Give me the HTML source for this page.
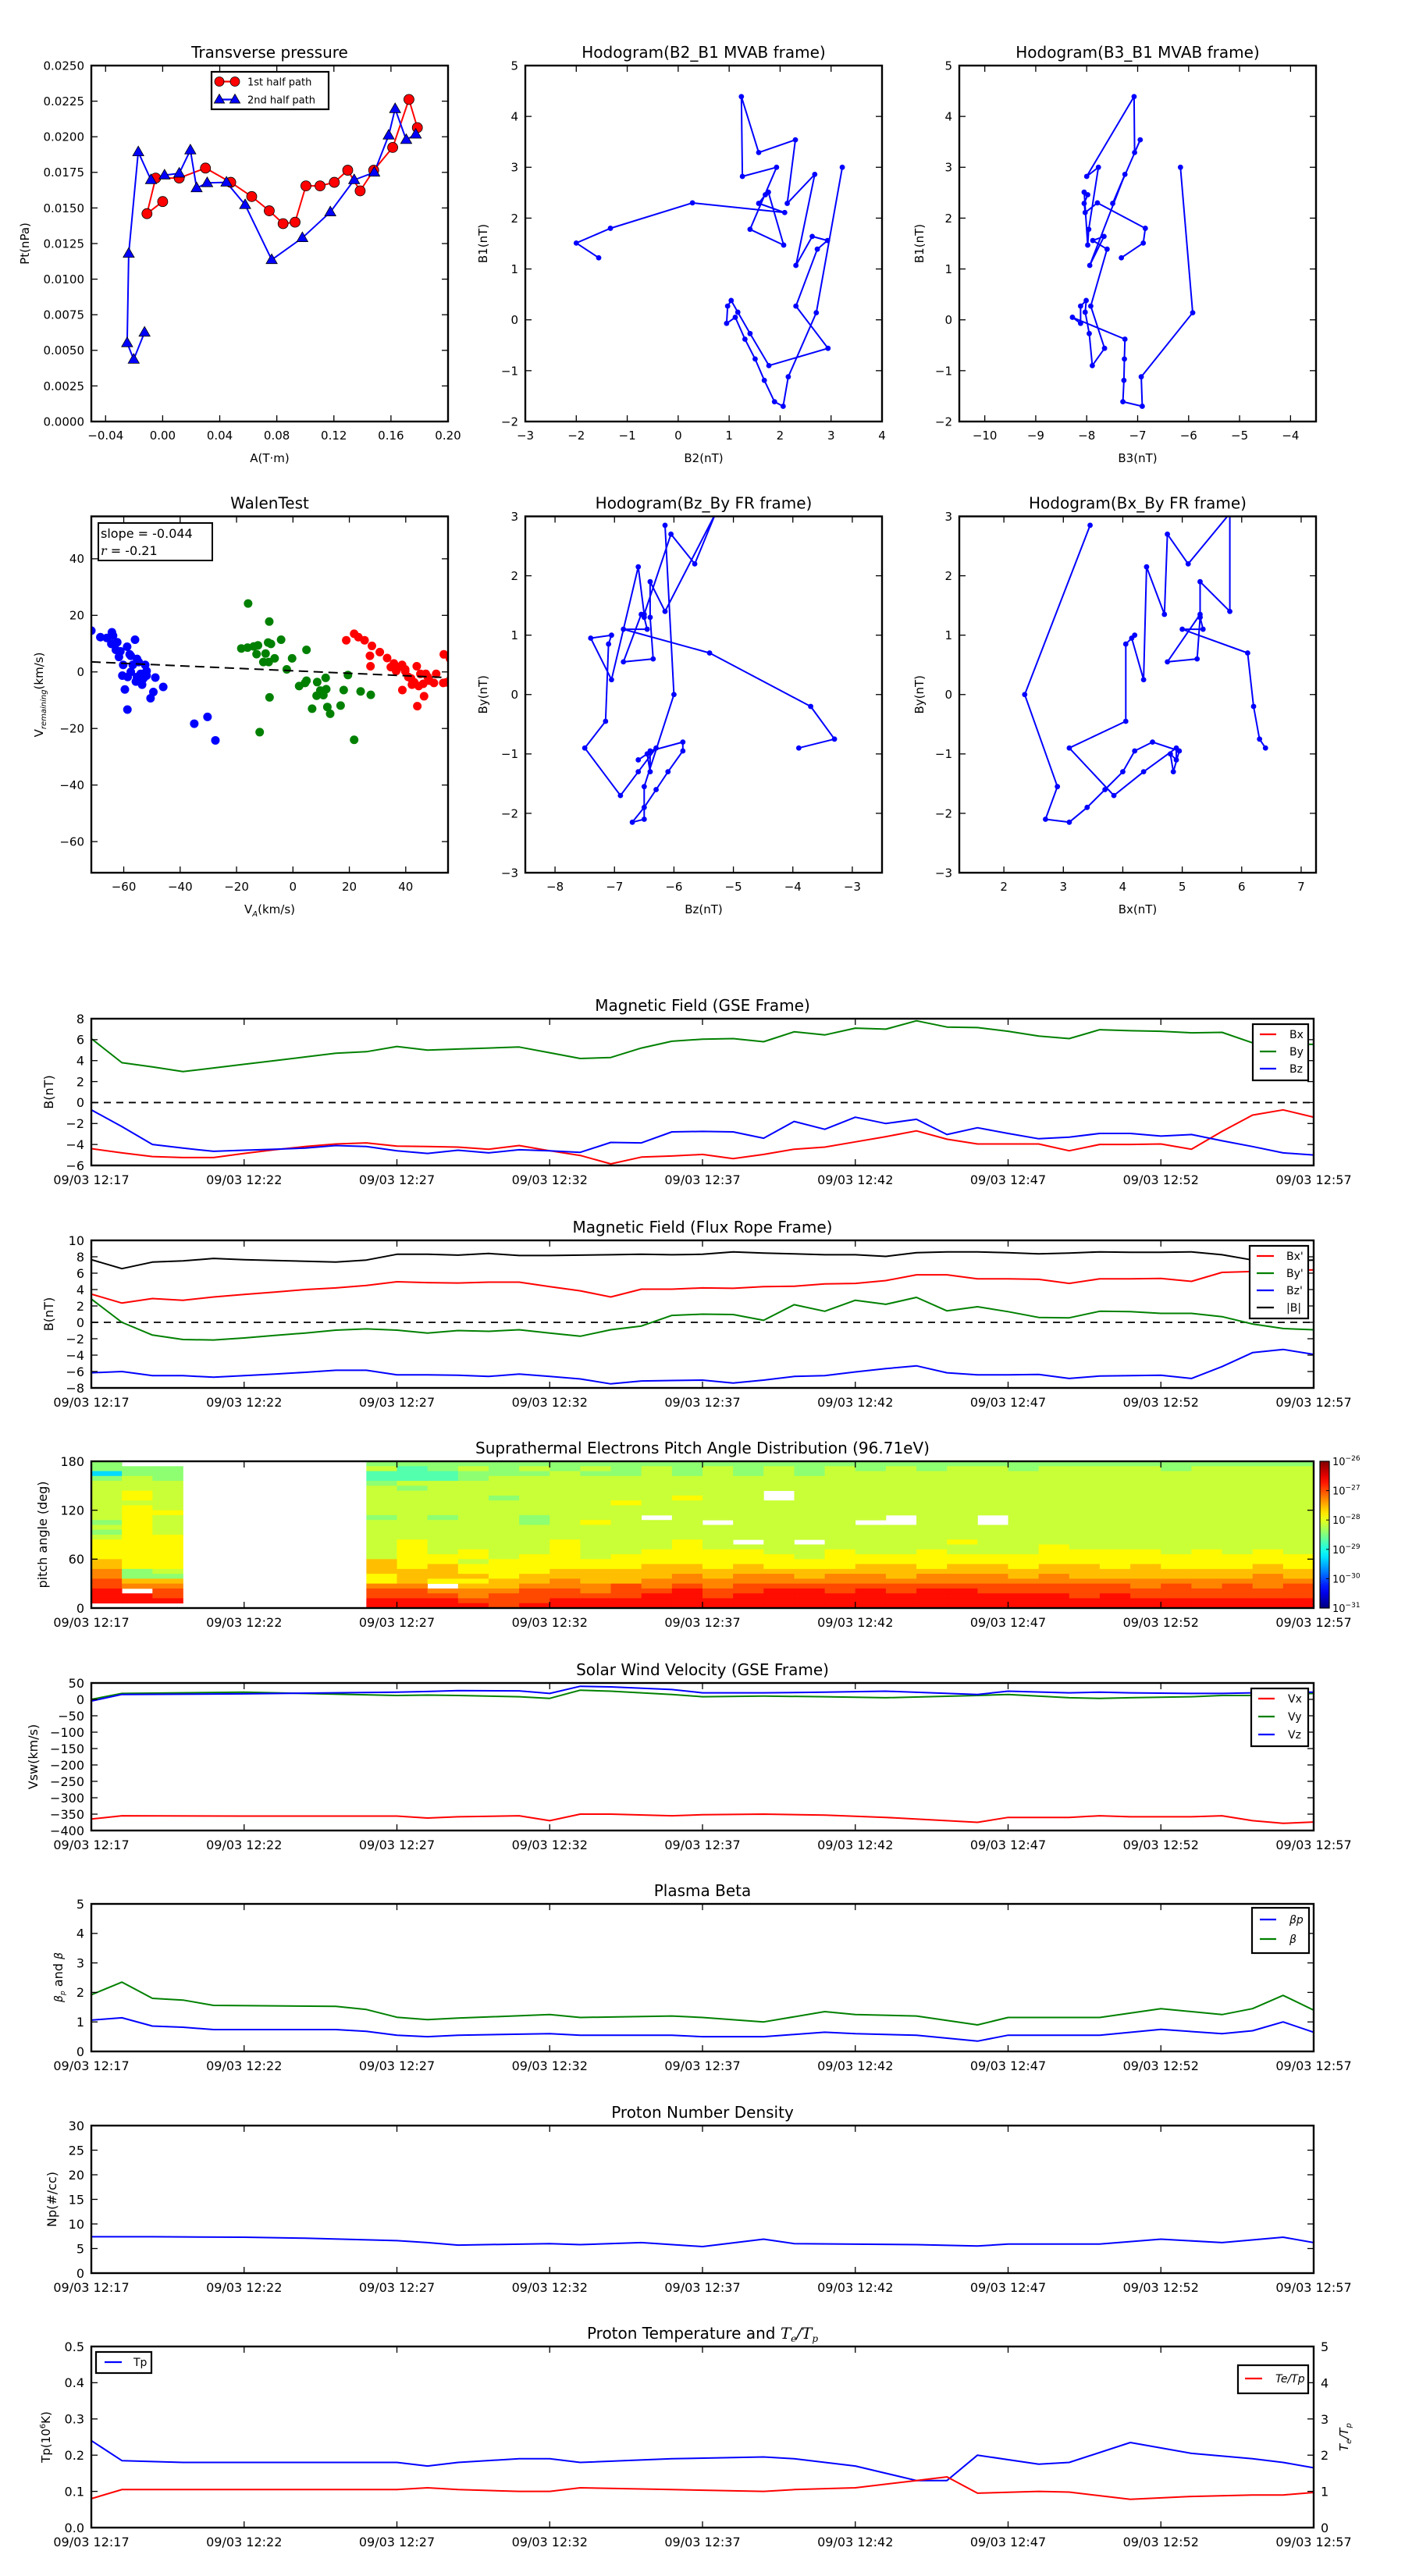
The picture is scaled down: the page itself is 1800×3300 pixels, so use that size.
<!DOCTYPE html>
<html><head><meta charset="utf-8"><title>Flux rope analysis</title>
<style>
html,body{margin:0;padding:0;background:#fff;}
svg{display:block;}
text{font-family:"DejaVu Sans","Liberation Sans",sans-serif;fill:#000;}
</style></head>
<body>
<svg id="fig" xmlns="http://www.w3.org/2000/svg" width="1800" height="3300" viewBox="0 0 1800 3300"></svg>
<script>
// ---------------- DATA ----------------
// Transverse pressure
const p1RedA=[0,-0.011,-0.0049,0.0116,0.030,0.0477,0.0624,0.0747,0.0844,0.0928,0.1004,0.1103,0.1203,0.1297,0.1384,0.1479,0.1612,0.1726,0.1785];
const p1RedPt=[0.01545,0.0146,0.0171,0.0171,0.0178,0.0168,0.0158,0.0148,0.0139,0.0140,0.01655,0.01655,0.0168,0.01765,0.0162,0.01765,0.01925,0.02262,0.02064];
const p1BlueA=[-0.0127,-0.0203,-0.0249,-0.0238,-0.0171,-0.0082,0.0013,0.0116,0.0194,0.0238,0.0312,0.0447,0.0578,0.0764,0.0979,0.1175,0.1342,0.1483,0.1584,0.1629,0.1707,0.1774];
const p1BluePt=[0.00626,0.00436,0.00552,0.0118,0.01893,0.01697,0.0173,0.01743,0.01906,0.0164,0.01676,0.0168,0.01522,0.01136,0.0129,0.01471,0.01697,0.0175,0.0201,0.02196,0.01979,0.02017];
// MVAB hodograms
const mvB1=[1.22,1.51,1.80,2.30,2.11,2.29,2.46,2.51,1.47,1.78,3.0,2.82,4.39,3.29,3.54,2.29,2.86,1.07,1.64,1.56,1.39,0.27,-0.56,-0.90,-0.27,0.15,0.38,0.27,-0.07,0.05,-0.38,-0.77,-1.19,-1.61,-1.70,-1.12,0.14,3.0];
const mvB2=[-1.56,-2.0,-1.33,0.28,2.09,1.58,1.71,1.77,2.07,1.41,1.93,1.26,1.24,1.58,2.30,2.14,2.68,2.31,2.63,2.93,2.73,2.31,2.94,1.78,1.41,1.17,1.04,0.97,0.95,1.12,1.31,1.51,1.69,1.89,2.06,2.16,2.71,3.22];
const mvB3=[-7.32,-6.89,-6.85,-7.79,-8.03,-8.05,-7.98,-8.05,-7.98,-7.96,-7.77,-8.0,-7.07,-7.06,-6.95,-7.49,-7.25,-7.94,-7.66,-7.88,-7.6,-7.92,-7.65,-7.89,-7.95,-8.03,-8.01,-8.12,-8.12,-8.28,-7.25,-7.26,-7.27,-7.29,-6.91,-6.93,-5.92,-6.16];
// Walen test
const walBlueVa=[-71.5,-68.3,-66,-64.2,-63.8,-64.4,-62.8,-61.2,-61.7,-58.8,-56,-57.9,-55.3,-60.2,-60.5,-58.6,-57.5,-59.6,-58.7,-55.7,-53.5,-54,-52.4,-51.9,-48.8,-49.5,-50.5,-46,-53,-54.7,-56.8,-35,-30.3,-27.5,-62.3,-57.5,-55.3,-51.9];
const walBlueVr=[14.6,12.3,12,14,12.8,9.9,7.8,7.3,5.3,8.9,11.4,6.2,4.6,2.5,-1.3,-1.8,0,-6.2,-13.3,-3.4,-4.5,-0.7,2.5,0.3,-2,-7.1,-9.3,-5.3,-2.3,3.5,2.5,-18.3,-15.9,-24.2,10.5,5.7,-1.8,-1.3];
const walGreenVa=[-15.9,-8.4,-18.3,-16.1,-12.4,-12.9,-8.8,-7.8,-4.2,-9.7,-10.5,-8.6,-6.5,-0.3,4.8,-2.2,-8.3,-11.8,2.2,4.8,4.3,8.6,11.6,9.7,8.4,10.8,11.8,6.8,12.2,13.2,16.9,18,19.5,21.7,24,27.6,-13.9];
const walGreenVr=[24.2,17.8,8.3,8.6,9.4,6.3,10.4,9.9,11.4,6.5,3.5,3.5,4.8,4.8,7.8,0.9,-9,-21.3,-5,-3.1,-3.9,-3.6,-2.1,-6.6,-8.4,-8.2,-6.1,-13,-12.4,-14.8,-11.9,-6.4,-1.1,-24,-6.9,-8.1,9];
const walRedVa=[18.9,21.7,23.2,25.4,28,30.8,27.3,27.5,33.4,34.7,35.8,37.2,38.7,39.8,36.6,39.8,43.9,45.2,47.1,50.8,41.9,43,44.6,46.2,48.4,50,42.2,38.8,46.5,44.1,53.5,55.7,53.3,54.4,40.9,47.8];
const walRedVr=[11.2,13.5,12.3,11.2,9.2,7,5.7,2,4.9,1.7,3,1.6,2.5,0.9,0.3,0.3,2,-0.7,-0.7,-0.7,-2.3,-3.7,-5,-4.2,-3.1,-3.9,-4.5,-6.4,-8.6,-12.1,6.2,4.7,-3.9,-3.7,-1.8,-1.8];
const walSlope=-0.044, walIntercept=0.4;
// Time series (minutes after 12:17)
const tMin=[0,1,2,3,4,5,6,7,8,9,10,11,12,13,14,15,16,17,18,19,20,21,22,23,24,25,26,27,28,29,30,31,32,33,34,35,36,37,38,39,40];
const gseBx=[-4.4,-4.8,-5.15,-5.25,-5.25,-4.85,-4.5,-4.2,-3.95,-3.85,-4.15,-4.2,-4.25,-4.45,-4.1,-4.6,-5.05,-5.85,-5.2,-5.1,-4.95,-5.35,-4.95,-4.45,-4.25,-3.75,-3.25,-2.7,-3.5,-3.95,-3.95,-3.95,-4.6,-4.0,-4.0,-3.95,-4.45,-2.75,-1.2,-0.7,-1.4];
const gseBy=[6.1,3.8,3.4,2.95,3.3,3.65,4.0,4.35,4.7,4.85,5.35,5.0,5.1,5.2,5.3,4.75,4.2,4.3,5.2,5.85,6.05,6.1,5.8,6.75,6.45,7.1,7.0,7.8,7.2,7.15,6.8,6.35,6.1,6.95,6.85,6.8,6.65,6.7,5.7,5.6,5.55];
const gseBz=[-0.7,-2.3,-4.0,-4.35,-4.65,-4.55,-4.45,-4.35,-4.1,-4.2,-4.6,-4.85,-4.55,-4.8,-4.5,-4.6,-4.75,-3.8,-3.85,-2.8,-2.75,-2.8,-3.4,-1.8,-2.55,-1.4,-2.0,-1.6,-3.05,-2.4,-2.95,-3.45,-3.3,-2.95,-2.95,-3.2,-3.05,-3.65,-4.2,-4.8,-5.0];
const frBx=[3.45,2.35,2.9,2.7,3.1,3.4,3.7,4.0,4.2,4.5,4.95,4.85,4.8,4.9,4.9,4.35,3.85,3.1,4.05,4.05,4.2,4.15,4.35,4.4,4.7,4.75,5.1,5.8,5.8,5.3,5.3,5.25,4.75,5.3,5.3,5.35,5.0,6.1,6.2,6.3,6.4];
const frBy=[2.85,0,-1.55,-2.1,-2.15,-1.9,-1.6,-1.3,-0.95,-0.8,-0.95,-1.3,-1.0,-1.1,-0.9,-1.3,-1.7,-0.9,-0.45,0.85,1.0,0.95,0.25,2.15,1.35,2.7,2.2,3.05,1.4,1.9,1.3,0.6,0.55,1.35,1.3,1.1,1.1,0.7,-0.2,-0.75,-0.9];
const frBz=[-6.15,-6.0,-6.5,-6.5,-6.7,-6.5,-6.3,-6.1,-5.85,-5.85,-6.4,-6.4,-6.45,-6.6,-6.3,-6.6,-6.9,-7.5,-7.15,-7.1,-7.05,-7.4,-7.05,-6.6,-6.5,-6.05,-5.65,-5.3,-6.15,-6.4,-6.4,-6.35,-6.85,-6.55,-6.5,-6.45,-6.85,-5.4,-3.7,-3.3,-3.9];
const frBt=[7.65,6.55,7.35,7.5,7.8,7.65,7.55,7.45,7.35,7.6,8.3,8.3,8.2,8.4,8.15,8.15,8.2,8.25,8.3,8.25,8.3,8.6,8.45,8.35,8.25,8.25,8.05,8.5,8.6,8.6,8.5,8.35,8.45,8.6,8.55,8.55,8.6,8.25,7.6,7.5,7.6];
// Pitch angle distribution: one string per minute column, 30 bins from 180 deg (first) to 0 deg (last); digit = log flux level, '.' = no data
const padCols=[
"33034 44444 44343 45555 66778 8999.",".3344 45545 55555 55555 55336 7.99.",".3334 44444 54444 55555 55436 7889.",
"..... ..... ..... ..... ..... .....","..... ..... ..... ..... ..... .....","..... ..... ..... ..... ..... .....",
"..... ..... ..... ..... ..... .....","..... ..... ..... ..... ..... .....","..... ..... ..... ..... ..... .....",
"34223 44444 43444 44444 66655 78899","32224 34444 44444 45555 55666 78899","33224 44444 43444 44445 56665 .7899",
"34334 44444 44444 44455 45565 67789","33344 44344 44444 44444 55556 67888","34344 44444 43344 44445 55566 78889",
"33444 44444 44444 45555 55667 78899","34344 44444 44544 44444 55666 77899","33344 44454 44444 44445 55666 88899",
"34444 44444 4.444 44455 56667 78999","33344 44544 44444 45555 56677 89999","34444 44444 44.44 44455 55667 78899",
"33344 44444 44444 4.455 56677 88999","34444 4..44 44444 44445 55677 89999","33344 44444 44444 4.444 55667 89999",
"34444 44444 44444 44455 55677 88999","33444 44444 44.44 44445 56677 89999","34444 44444 4..44 44445 56667 88999",
"33444 44444 44444 44455 55677 89999","34444 44444 44444 45445 56677 89999","34444 44444 4..44 44445 56677 88999",
"33444 44444 44444 44445 55667 88999","34444 44444 44444 44555 56677 88999","34444 44444 44444 44455 56667 88899",
"34444 44444 44444 44455 55667 88999","34444 44444 44444 44455 56667 78899","33444 44444 44444 44445 55667 88899",
"34444 44444 44444 44455 55667 78899","34444 44444 44444 44445 55667 88899","34444 44444 44444 44455 56677 78899",
"34444 44444 44444 44445 55667 88899"];
const padCbarExp=[-26,-27,-28,-29,-30,-31];
// Solar wind velocity
const vswT=[0,1,5,10,11,12,14,15,16,17,19,20,22,24,26,29,30,32,33,34,36,37,38,39,40];
const vswVx=[-365,-355,-356,-356,-362,-358,-355,-370,-350,-350,-355,-352,-350,-353,-360,-375,-360,-360,-355,-358,-358,-355,-370,-378,-374];
const vswVy=[0,18,22,12,13,12,8,3,28,25,15,8,10,8,5,12,15,5,3,5,8,12,12,15,18];
const vswVz=[-5,15,17,22,24,27,26,18,40,38,30,20,20,22,25,15,25,20,22,20,18,18,20,22,22];
// Plasma beta
const betaT=[0,1,2,3,4,8,9,10,11,12,15,16,19,20,22,24,25,27,29,30,33,35,37,38,39,40];
const betaTot=[1.92,2.35,1.8,1.74,1.56,1.53,1.42,1.16,1.08,1.13,1.25,1.15,1.2,1.15,1.0,1.35,1.25,1.2,0.9,1.15,1.15,1.45,1.25,1.45,1.9,1.4];
const betaP=[1.06,1.14,0.86,0.82,0.74,0.74,0.68,0.55,0.5,0.55,0.6,0.55,0.55,0.5,0.5,0.65,0.6,0.55,0.35,0.55,0.55,0.75,0.6,0.7,1.0,0.65];
// Proton density
const npT=[0,2,5,7,10,11,12,15,16,18,20,22,23,27,29,30,33,35,37,39,40];
const npV=[7.4,7.4,7.3,7.1,6.6,6.2,5.7,6.0,5.8,6.2,5.4,6.9,6.0,5.8,5.5,5.9,5.9,6.9,6.2,7.3,6.2];
// Proton temperature and Te/Tp
const tpT=[0,1,3,10,11,12,14,15,16,19,22,23,25,27,28,29,31,32,34,36,38,39,40];
const tpV=[0.24,0.185,0.18,0.18,0.17,0.18,0.19,0.19,0.18,0.19,0.195,0.19,0.17,0.13,0.13,0.2,0.175,0.18,0.235,0.205,0.19,0.18,0.165];
const teTpV=[0.8,1.05,1.05,1.05,1.1,1.05,1.0,1.0,1.1,1.05,1.0,1.05,1.1,1.3,1.4,0.95,1.0,0.98,0.78,0.86,0.9,0.9,0.97];
const timeTickVals=[0,5,10,15,20,25,30,35,40];
const timeTickLabels=["09/03 12:17","09/03 12:22","09/03 12:27","09/03 12:32","09/03 12:37","09/03 12:42","09/03 12:47","09/03 12:52","09/03 12:57"];

// ---------------- HELPERS ----------------
const NS='http://www.w3.org/2000/svg';
const svg=document.getElementById('fig');
function mk(tag,attrs,parent){const e=document.createElementNS(NS,tag);for(const k in attrs)e.setAttribute(k,attrs[k]);(parent||svg).appendChild(e);return e;}
function fmtNum(v,d){const s=Math.abs(v).toFixed(d);return (v<-1e-12?'\u2212':'')+s;}
function txt(x,y,s,size,anchor,parent,extra){const t=mk('text',Object.assign({x:x,y:y,'font-size':size,'text-anchor':anchor||'middle'},extra||{}),parent);t.textContent=s;return t;}
let clipId=0;
function axes(o){
  const g=mk('g',{});
  
  
  const sx=v=>o.x0+(v-o.xmin)/(o.xmax-o.xmin)*(o.x1-o.x0);
  const sy=v=>o.y1-(v-o.ymin)/(o.ymax-o.ymin)*(o.y1-o.y0);
  const cid='clip'+(clipId++);
  const cp=mk('clipPath',{id:cid},g);mk('rect',{x:o.x0,y:o.y0,width:o.x1-o.x0,height:o.y1-o.y0},cp);
  const data=mk('g',{'clip-path':'url(#'+cid+')'},g);
  
  
  const fs=o.fs||15;
  const tt=txt((o.x0+o.x1)/2,o.y0-10,o.title,o.tfs||20,'middle',g);
  
  
  const tg=mk('g',{stroke:'#000','stroke-width':1.3},g);
  const tl=8;
  o.xticks.forEach((v,i)=>{const x=sx(v);
    mk('line',{x1:x,x2:x,y1:o.y1,y2:o.y1-tl},tg);mk('line',{x1:x,x2:x,y1:o.y0,y2:o.y0+tl},tg);
    const lab=txt(x,o.y1+(o.xlabOff||23),o.xlabels?o.xlabels[i]:o.xfmt(v),fs,'middle',g);
    
    });
  o.yticks.forEach((v,i)=>{const y=sy(v);
    mk('line',{x1:o.x0,x2:o.x0+tl,y1:y,y2:y},tg);
    if(!o.noRightTicks)mk('line',{x1:o.x1,x2:o.x1-tl,y1:y,y2:y},tg);
    const lab=txt(o.x0-9,y+fs*0.36,o.yfmt(v),fs,'end',g);
    
    });
  if(o.xlabel){const xl=txt((o.x0+o.x1)/2,o.y1+52,o.xlabel,fs,'middle',g);
    
    
    if(o.xlabelSub){xl.textContent='V';const s=mk('tspan',{'font-size':10,'font-style':'italic','dy':4},xl);s.textContent='A';const r=mk('tspan',{'dy':-4},xl);r.textContent='(km/s)';}}
  if(o.ylabel){const yl=mk('text',{x:0,y:0,'font-size':o.ylfs||fs,'text-anchor':'middle',transform:'translate('+o.ylx+','+((o.y0+o.y1)/2)+') rotate(-90)'},g);
    yl.textContent=o.ylabel;
    
    }
  return {g,data,sx,sy,o,frame:()=>{const f=mk('rect',{x:o.x0,y:o.y0,width:o.x1-o.x0,height:o.y1-o.y0,fill:'none',stroke:'#000','stroke-width':2.4},g);
    
    }};
}
function polyline(ax,xs,ys,color,w,name){
  const pts=xs.map((x,i)=>ax.sx(x).toFixed(1)+','+ax.sy(ys[i]).toFixed(1)).join(' ');
  const p=mk('polyline',{points:pts,fill:'none',stroke:color,'stroke-width':w||2,'stroke-linejoin':'round'},ax.data);
  
  
  return p;
}
function dots(ax,xs,ys,color,r,name){
  const g=mk('g',{fill:color},ax.data);
  
  
  xs.forEach((x,i)=>{mk('circle',{cx:ax.sx(x),cy:ax.sy(ys[i]),r:r},g);});
  return g;
}
function range(a,b,s){const r=[];for(let v=a;v<=b+1e-9;v+=s)r.push(+v.toFixed(6));return r;}
function legend(x,y,w,h,entries,name){
  const g=mk('g',{});
  
  
  mk('rect',{x:x,y:y,width:w,height:h,fill:'#fff',stroke:'#000','stroke-width':2.2},g);
  entries.forEach(e=>{
    const it=mk('g',{},g);
    
    
    mk('line',{x1:e.lx1,x2:e.lx2,y1:e.y,y2:e.y,stroke:e.color,'stroke-width':2.2},it);
    if(e.marker==='o'){mk('circle',{cx:e.lx1,cy:e.y,r:6,fill:e.color,stroke:'#000','stroke-width':0.8},it);mk('circle',{cx:e.lx2,cy:e.y,r:6,fill:e.color,stroke:'#000','stroke-width':0.8},it);}
    if(e.marker==='^'){[e.lx1,e.lx2].forEach(cx=>mk('polygon',{points:tri(cx,e.y,7),fill:e.color,stroke:'#000','stroke-width':0.8},it));}
    txt(e.tx,e.y+5,e.label,e.fs||14,'start',it,e.italic?{'font-style':'italic','font-family':'"DejaVu Serif","Liberation Serif",serif'}:{});
  });
  return g;
}
function tri(cx,cy,r){return [cx+','+(cy-r),(cx-r*0.95)+','+(cy+r*0.65),(cx+r*0.95)+','+(cy+r*0.65)].join(' ');}

// ---------------- PANEL 1: Transverse pressure ----------------
(function(){
  const ax=axes({name:'transverse-pressure-chart',x0:117,x1:574,y0:84,y1:540,xmin:-0.05,xmax:0.20,ymin:0,ymax:0.025,
    xticks:range(-0.04,0.20,0.04),xfmt:v=>fmtNum(v,2),yticks:range(0,0.025,0.0025),yfmt:v=>fmtNum(v,4),
    title:'Transverse pressure',xlabel:'A(T\u00b7m)',ylabel:'Pt(nPa)',ylx:37});
  polyline(ax,p1RedA,p1RedPt,'#ff0000',2,'first-half-path-line');
  polyline(ax,p1BlueA,p1BluePt,'#0000ff',2,'second-half-path-line');
  const rg=mk('g',{fill:'#ff0000',stroke:'#000','stroke-width':0.8},ax.data);
  
  
  p1RedA.forEach((a,i)=>mk('circle',{cx:ax.sx(a),cy:ax.sy(p1RedPt[i]),r:6.5},rg));
  const bg=mk('g',{fill:'#0000ff',stroke:'#000','stroke-width':0.8},ax.data);
  
  
  p1BlueA.forEach((a,i)=>mk('polygon',{points:tri(ax.sx(a),ax.sy(p1BluePt[i]),7.5)},bg));
  ax.frame();
  legend(271,92,150,48,[{lx1:281,lx2:301,y:104.5,color:'#ff0000',marker:'o',tx:317,label:'1st half path',fs:13},
    {lx1:281,lx2:301,y:127.5,color:'#0000ff',marker:'^',tx:317,label:'2nd half path',fs:13}],'pressure-legend');
})();

// ---------------- Hodograms MVAB ----------------
(function(){
  const ax=axes({name:'hodogram-b2-b1-chart',x0:673,x1:1130,y0:84,y1:540,xmin:-3,xmax:4,ymin:-2,ymax:5,
    xticks:range(-3,4,1),xfmt:v=>fmtNum(v,0),yticks:range(-2,5,1),yfmt:v=>fmtNum(v,0),
    title:'Hodogram(B2_B1 MVAB frame)',xlabel:'B2(nT)',ylabel:'B1(nT)',ylx:624});
  polyline(ax,mvB2,mvB1,'#0000ff',2,'b2-b1-path');
  dots(ax,mvB2,mvB1,'#0000ff',3.4,'b2-b1-points');
  ax.frame();
  const ax2=axes({name:'hodogram-b3-b1-chart',x0:1229,x1:1686,y0:84,y1:540,xmin:-10.5,xmax:-3.5,ymin:-2,ymax:5,
    xticks:range(-10,-4,1),xfmt:v=>fmtNum(v,0),yticks:range(-2,5,1),yfmt:v=>fmtNum(v,0),
    title:'Hodogram(B3_B1 MVAB frame)',xlabel:'B3(nT)',ylabel:'B1(nT)',ylx:1183});
  polyline(ax2,mvB3,mvB1,'#0000ff',2,'b3-b1-path');
  dots(ax2,mvB3,mvB1,'#0000ff',3.4,'b3-b1-points');
  ax2.frame();
})();

// ---------------- Walen test ----------------
(function(){
  const ax=axes({name:'walen-test-chart',x0:117,x1:574,y0:661.5,y1:1118,xmin:-71.5,xmax:55,ymin:-71,ymax:55,
    xticks:range(-60,40,20),xfmt:v=>fmtNum(v,0),yticks:range(-60,40,20),yfmt:v=>fmtNum(v,0),
    title:'WalenTest',xlabel:'V_A(km/s)',xlabelSub:true,ylabel:'',ylx:53});
  dots(ax,walBlueVa,walBlueVr,'#0000ff',5.5,'walen-blue-points');
  dots(ax,walGreenVa,walGreenVr,'#008000',5.5,'walen-green-points');
  dots(ax,walRedVa,walRedVr,'#ff0000',5.5,'walen-red-points');
  const fx=[ax.o.xmin,ax.o.xmax];
  const fl=mk('line',{x1:ax.sx(fx[0]),y1:ax.sy(walSlope*fx[0]+walIntercept),x2:ax.sx(fx[1]),y2:ax.sy(walSlope*fx[1]+walIntercept),stroke:'#000','stroke-width':2,'stroke-dasharray':'12,7'},ax.data);
  
  
  ax.frame();
  const yl=mk('text',{x:0,y:0,'font-size':15,'text-anchor':'middle',transform:'translate(55,890) rotate(-90)'},ax.g);
  
  
  yl.textContent='V';
  const s1=mk('tspan',{'font-size':10,'font-style':'italic','dy':4},yl);s1.textContent='remaining';
  const s2=mk('tspan',{'dy':-4},yl);s2.textContent='(km/s)';
  const box=mk('g',{},ax.g);
  
  
  mk('rect',{x:126,y:670,width:146,height:48,fill:'#fff',stroke:'#000','stroke-width':2},box);
  txt(129,689,'slope = -0.044',16,'start',box);
  const r=txt(129,711,'',16,'start',box);
  const ri=mk('tspan',{'font-style':'italic','font-family':'"DejaVu Serif","Liberation Serif",serif'},r);ri.textContent='r';
  const rr=mk('tspan',{},r);rr.textContent=' = -0.21';
})();

// ---------------- Hodograms FR ----------------
(function(){
  const ax=axes({name:'hodogram-bz-by-chart',x0:673,x1:1130,y0:661.5,y1:1118,xmin:-8.5,xmax:-2.5,ymin:-3,ymax:3,
    xticks:range(-8,-3,1),xfmt:v=>fmtNum(v,0),yticks:range(-3,3,1),yfmt:v=>fmtNum(v,0),
    title:'Hodogram(Bz_By FR frame)',xlabel:'Bz(nT)',ylabel:'By(nT)',ylx:624});
  polyline(ax,frBz,frBy,'#0000ff',2,'bz-by-path');
  dots(ax,frBz,frBy,'#0000ff',3.4,'bz-by-points');
  ax.frame();
  const ax2=axes({name:'hodogram-bx-by-chart',x0:1229,x1:1686,y0:661.5,y1:1118,xmin:1.25,xmax:7.25,ymin:-3,ymax:3,
    xticks:range(2,7,1),xfmt:v=>fmtNum(v,0),yticks:range(-3,3,1),yfmt:v=>fmtNum(v,0),
    title:'Hodogram(Bx_By FR frame)',xlabel:'Bx(nT)',ylabel:'By(nT)',ylx:1183});
  polyline(ax2,frBx,frBy,'#0000ff',2,'bx-by-path');
  dots(ax2,frBx,frBy,'#0000ff',3.4,'bx-by-points');
  ax2.frame();
})();

// ---------------- time-series helper ----------------
function tsAxes(name,y0,y1,ymin,ymax,yticks,yfmt,title,ylabel,ylx){
  return axes({name:name,x0:117,x1:1683,y0:y0,y1:y1,xmin:0,xmax:40,ymin:ymin,ymax:ymax,
    xticks:timeTickVals,xlabels:timeTickLabels,yticks:yticks,yfmt:yfmt,fs:16,xlabOff:24,
    title:title,ylabel:ylabel,ylx:ylx});
}
function zeroLine(ax,name){const l=mk('line',{x1:ax.o.x0,x2:ax.o.x1,y1:ax.sy(0),y2:ax.sy(0),stroke:'#000','stroke-width':1.8,'stroke-dasharray':'9,7'},ax.data);
  
  }

// GSE
(function(){
  const ax=tsAxes('magnetic-field-gse-chart',1305,1493,-6,8,range(-6,8,2),v=>fmtNum(v,0),'Magnetic Field (GSE Frame)','B(nT)',68);
  zeroLine(ax,'gse-zero-line');
  polyline(ax,tMin,gseBx,'#ff0000',2,'gse-bx-line');
  polyline(ax,tMin,gseBy,'#008000',2,'gse-by-line');
  polyline(ax,tMin,gseBz,'#0000ff',2,'gse-bz-line');
  ax.frame();
  legend(1605,1312,71,72,[{lx1:1614,lx2:1635,y:1325,color:'#ff0000',tx:1652,label:'Bx'},{lx1:1614,lx2:1635,y:1347,color:'#008000',tx:1652,label:'By'},{lx1:1614,lx2:1635,y:1369,color:'#0000ff',tx:1652,label:'Bz'}],'gse-legend');
})();
// FR
(function(){
  const ax=tsAxes('magnetic-field-flux-rope-chart',1589,1778,-8,10,range(-8,10,2),v=>fmtNum(v,0),'Magnetic Field (Flux Rope Frame)','B(nT)',68);
  zeroLine(ax,'fr-zero-line');
  polyline(ax,tMin,frBx,'#ff0000',2,'fr-bx-line');
  polyline(ax,tMin,frBy,'#008000',2,'fr-by-line');
  polyline(ax,tMin,frBz,'#0000ff',2,'fr-bz-line');
  polyline(ax,tMin,frBt,'#000000',2,'fr-btotal-line');
  ax.frame();
  legend(1601,1596,75,93,[{lx1:1610,lx2:1632,y:1609,color:'#ff0000',tx:1648,label:"Bx'"},{lx1:1610,lx2:1632,y:1631,color:'#008000',tx:1648,label:"By'"},{lx1:1610,lx2:1632,y:1653,color:'#0000ff',tx:1648,label:"Bz'"},{lx1:1610,lx2:1632,y:1675,color:'#000000',tx:1648,label:'|B|'}],'fr-legend');
})();
// Pitch angle
function jet(v){const c=x=>Math.max(0,Math.min(1,x));return 'rgb('+Math.round(255*c(1.5-Math.abs(4*v-3)))+','+Math.round(255*c(1.5-Math.abs(4*v-2)))+','+Math.round(255*c(1.5-Math.abs(4*v-1)))+')';}
(function(){
  const ax=tsAxes('pitch-angle-distribution-chart',1872,2060,0,180,range(0,180,60),v=>fmtNum(v,0),'Suprathermal Electrons Pitch Angle Distribution (96.71eV)','pitch angle (deg)',60);
  const hg=mk('g',{},ax.data);
  
  
  padCols.forEach((s,ci)=>{
    const str=s.replace(/ /g,'');
    for(let r=0;r<str.length;r++){
      const ch=str[r]; if(ch==='.')continue;
      const d=+ch, frac=0.34+0.058*d;
      const aTop=180-6*r, aBot=aTop-6;
      const x0=ax.sx(ci), x1=ax.sx(ci+1), y0=ax.sy(aTop), y1=ax.sy(aBot);
      const cell=mk('rect',{x:x0.toFixed(2),y:y0.toFixed(2),width:(x1-x0+0.4).toFixed(2),height:(y1-y0+0.4).toFixed(2),fill:jet(frac)},hg);
      
      
    }
  });
  ax.frame();
  const cb=mk('g',{},svg);
  
  
  const defs=mk('defs',{},cb);
  const lg=mk('linearGradient',{id:'jetgrad',x1:0,y1:1,x2:0,y2:0},defs);
  for(let i=0;i<=20;i++){mk('stop',{offset:(i/20),'stop-color':jet(i/20)},lg);}
  const cy0=1872,cy1=2060;
  mk('rect',{x:1691,y:cy0,width:12,height:cy1-cy0,fill:'url(#jetgrad)',stroke:'#000','stroke-width':1.2},cb);
  padCbarExp.forEach((e,i)=>{const y=cy0+i*(cy1-cy0)/(padCbarExp.length-1);
    mk('line',{x1:1699,x2:1703,y1:y,y2:y,stroke:'#000','stroke-width':1},cb);
    const t=txt(1707,y+5,'10',13,'start',cb);
    const sp=mk('tspan',{'font-size':9,dy:-6},t);sp.textContent='\u2212'+Math.abs(e);});
})();
// Vsw
(function(){
  const ax=tsAxes('solar-wind-velocity-chart',2156,2345,-400,50,range(-400,50,50),v=>fmtNum(v,0),'Solar Wind Velocity (GSE Frame)','Vsw(km/s)',48);
  polyline(ax,vswT,vswVx,'#ff0000',2,'vsw-vx-line');
  polyline(ax,vswT,vswVy,'#008000',2,'vsw-vy-line');
  polyline(ax,vswT,vswVz,'#0000ff',2,'vsw-vz-line');
  ax.frame();
  legend(1603,2163,73,74,[{lx1:1612,lx2:1633,y:2176,color:'#ff0000',tx:1650,label:'Vx'},{lx1:1612,lx2:1633,y:2199,color:'#008000',tx:1650,label:'Vy'},{lx1:1612,lx2:1633,y:2222,color:'#0000ff',tx:1650,label:'Vz'}],'vsw-legend');
})();
// Beta
(function(){
  const ax=tsAxes('plasma-beta-chart',2439,2628,0,5,range(0,5,1),v=>fmtNum(v,0),'Plasma Beta','',78);
  polyline(ax,betaT,betaP,'#0000ff',2,'beta-proton-line');
  polyline(ax,betaT,betaTot,'#008000',2,'beta-total-line');
  ax.frame();
  const yl=mk('text',{x:0,y:0,'font-size':14,'text-anchor':'middle',fill:'#777',transform:'translate(80,2533) rotate(-90)','font-style':'italic','font-family':'"DejaVu Serif",serif'},ax.g);
  
  
  yl.textContent='\u03b2';
  const a=mk('tspan',{'font-size':9,dy:3},yl);a.textContent='p';
  const b=mk('tspan',{dy:-3,'font-style':'normal','font-family':'"DejaVu Sans",sans-serif',fill:'#000','font-size':16},yl);b.textContent=' and ';
  const c=mk('tspan',{},yl);c.textContent='\u03b2';
  legend(1604,2444,73,58,[{lx1:1614,lx2:1635,y:2459,color:'#0000ff',tx:1652,label:'\u03b2p',italic:true},{lx1:1614,lx2:1635,y:2484,color:'#008000',tx:1652,label:'\u03b2',italic:true}],'beta-legend');
})();
// Np
(function(){
  const ax=tsAxes('proton-density-chart',2723,2912,0,30,range(0,30,5),v=>fmtNum(v,0),'Proton Number Density','Np(#/cc)',72);
  polyline(ax,npT,npV,'#0000ff',2,'proton-density-line');
  ax.frame();
})();
// Tp
(function(){
  const ax=axes({name:'proton-temperature-chart',x0:117,x1:1683,y0:3006,y1:3238,xmin:0,xmax:40,ymin:0,ymax:0.5,
    xticks:timeTickVals,xlabels:timeTickLabels,yticks:range(0,0.5,0.1),yfmt:v=>v.toFixed(1),fs:16,xlabOff:24,noRightTicks:true,
    title:'',ylabel:'',ylx:62});
  const tt=ax.g.querySelector('text');
  tt.textContent='Proton Temperature and ';
  const t1=mk('tspan',{'font-style':'italic','font-family':'"DejaVu Serif",serif'},tt);t1.textContent='T';
  const t2=mk('tspan',{'font-size':12,dy:4,'font-style':'italic','font-family':'"DejaVu Serif",serif'},tt);t2.textContent='e';
  const t3=mk('tspan',{dy:-4,'font-style':'italic','font-family':'"DejaVu Serif",serif'},tt);t3.textContent='/T';
  const t4=mk('tspan',{'font-size':12,dy:4,'font-style':'italic','font-family':'"DejaVu Serif",serif'},tt);t4.textContent='p';
  const yl=mk('text',{x:0,y:0,'font-size':15,'text-anchor':'middle',transform:'translate(64,3122) rotate(-90)'},ax.g);
  
  
  yl.textContent='Tp(10';
  const ys=mk('tspan',{'font-size':10,dy:-6},yl);ys.textContent='6';
  const ye=mk('tspan',{dy:6},yl);ye.textContent='K)';
  polyline(ax,tpT,tpV,'#0000ff',2,'proton-temperature-line');
  const syR=v=>ax.o.y1-v/5*(ax.o.y1-ax.o.y0);
  const pts=tpT.map((t,i)=>ax.sx(t).toFixed(1)+','+syR(teTpV[i]).toFixed(1)).join(' ');
  const rl=mk('polyline',{points:pts,fill:'none',stroke:'#ff0000','stroke-width':2},ax.data);
  
  
  const rg=mk('g',{},ax.g);
  
  
  range(0,5,1).forEach(v=>{const y=syR(v);mk('line',{x1:1683,x2:1675,y1:y,y2:y,stroke:'#000','stroke-width':1.3},rg);
    const t=txt(1692,y+6,String(v),16,'start',rg,{fill:'#ff0000'});t.setAttribute('fill','#ff0000');});
  const rt=mk('text',{x:0,y:0,'font-size':15,'text-anchor':'middle',fill:'#ff0000','font-style':'italic','font-family':'"DejaVu Serif",serif',transform:'translate(1727,3122) rotate(-90)'},rg);
  
  
  rt.textContent='T';const r1=mk('tspan',{'font-size':10,dy:4},rt);r1.textContent='e';const r2=mk('tspan',{dy:-4},rt);r2.textContent='/T';const r3=mk('tspan',{'font-size':10,dy:4},rt);r3.textContent='p';
  ax.frame();
  legend(123,3013,71,27,[{lx1:134,lx2:156,y:3026,color:'#0000ff',tx:171,label:'Tp'}],'tp-legend');
  legend(1586,3030,90,36,[{lx1:1595,lx2:1617,y:3047,color:'#ff0000',tx:1634,label:'Te/Tp',italic:true}],'te-tp-legend');
})();
</script>
</body></html>
